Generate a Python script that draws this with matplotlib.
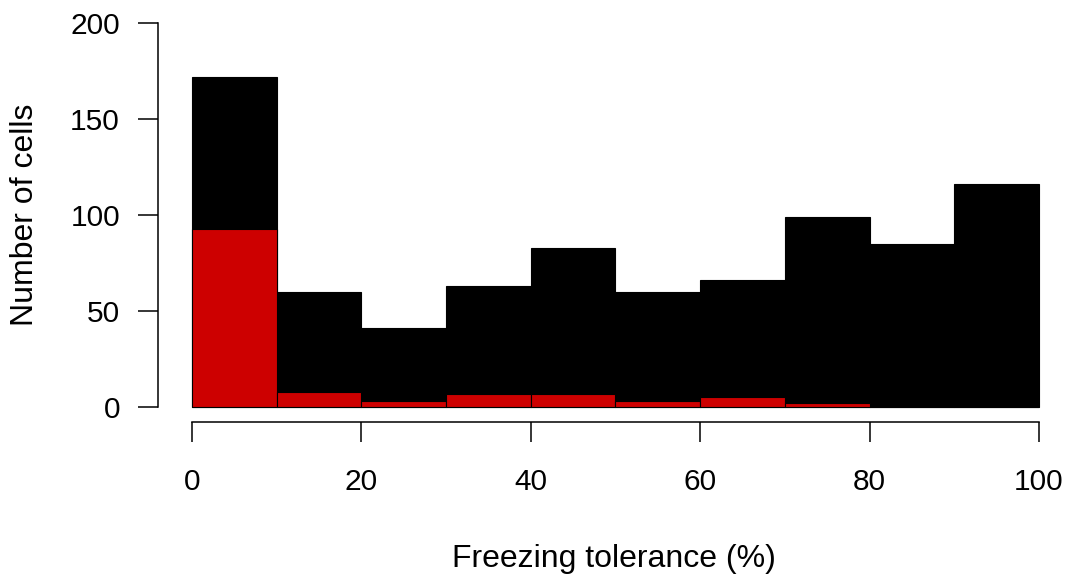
import numpy as np
import matplotlib.pyplot as plt
import matplotlib as mpl

mpl.rcParams['font.family'] = ['Liberation Sans', 'DejaVu Sans']

# histogram bins (freezing tolerance, %)
bin_edges = [0, 10, 20, 30, 40, 50, 60, 70, 80, 90, 100]
# all cells
total_counts = [172, 60, 41, 63, 83, 60, 66, 99, 85, 116]
# highlighted subset (red)
subset_counts = [93, 8, 3, 7, 7, 3, 5, 2, 0, 0]

W, H = 1071, 577
fig = plt.figure(figsize=(W / 100, H / 100), dpi=100)
ax = fig.add_axes([158 / W, 1 - 422.3 / H, (1072.8 - 158) / W, (422.3 - 8) / H])

left = np.array(bin_edges[:-1])
widths = np.diff(bin_edges)
ax.bar(left, total_counts, width=widths, align='edge',
       color='black', edgecolor='black', linewidth=0.8)
ax.bar(left, subset_counts, width=widths, align='edge',
       color='#CD0000', edgecolor='black', linewidth=0.8)

ax.set_xlim(-4, 104)
ax.set_ylim(-8, 208)

for s in ['top', 'right']:
    ax.spines[s].set_visible(False)
ax.spines['left'].set_bounds(0, 200)
ax.spines['bottom'].set_bounds(0, 100)
for s in ['left', 'bottom']:
    ax.spines[s].set_linewidth(1.1)

ax.set_xticks(range(0, 101, 20))
ax.set_yticks(range(0, 201, 50))
ax.tick_params(axis='both', direction='out', length=14.4, width=1.1,
               labelsize=21.5)
ax.tick_params(axis='y', pad=13)
ax.tick_params(axis='x', pad=18.5)

# axis titles placed like R's mtext lines
fig.text(613.5 / W, 1 - 566.7 / H, 'Freezing tolerance (%)', fontsize=23,
         ha='center', va='baseline')
fig.text(25.5 / W, 1 - 214.5 / H, 'Number of cells', fontsize=23,
         rotation=90, ha='center', va='center')

fig.savefig('out.png', dpi=100)
